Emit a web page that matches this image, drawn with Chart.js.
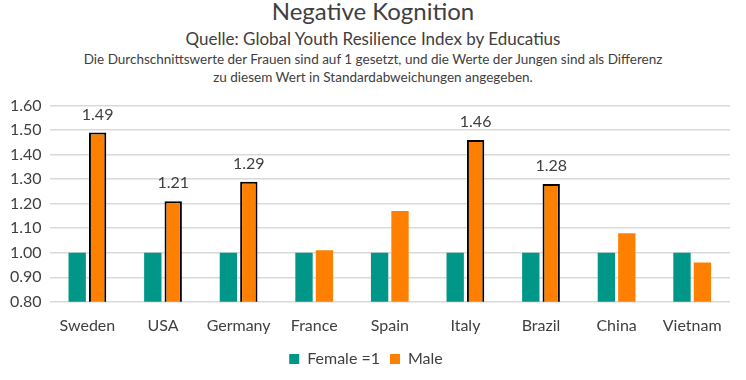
<!DOCTYPE html>
<html>
<head>
<meta charset="utf-8">
<script src="https://cdn.jsdelivr.net/npm/chart.js@4.4.0/dist/chart.umd.min.js"></script>
<style>
    html, body { margin: 0; padding: 0; background: #fff; }
    #wrap { position: relative; width: 746px; height: 380px; font-family: Lato, 'Open Sans', sans-serif; color: #404040; }
    .title { position: absolute; left: 0; width: 746px; text-align: center; white-space: nowrap; }
    #t1 { top: -4px; font-size: 24px; }
    #t2 { top: 28px; font-size: 17px; }
    #t3 { top: 50px; font-size: 13.5px; line-height: 18px; }
    #box { position: absolute; left: 0; top: 88px; width: 746px; height: 292px; }
</style>
</head>
<body>
<div id="wrap">
    <div class="title" id="t1">Negative Kognition</div>
    <div class="title" id="t2">Quelle: Global Youth Resilience Index by Educatius</div>
    <div class="title" id="t3">Die Durchschnittswerte der Frauen sind auf 1 gesetzt, und die Werte der Jungen sind als Differenz<br>zu diesem Wert in Standardabweichungen angegeben.</div>
    <div id="box"><canvas id="chart"></canvas></div>
</div>
<script>
// ========== DATA ==========
const countries = ['Sweden', 'USA', 'Germany', 'France', 'Spain', 'Italy', 'Brazil', 'China', 'Vietnam'];
const femaleValues = [1, 1, 1, 1, 1, 1, 1, 1, 1];
const maleValues = [1.49, 1.21, 1.29, 1.01, 1.17, 1.46, 1.28, 1.08, 0.96];
// male bars that are outlined and labelled
const highlighted = [true, true, true, false, false, true, true, false, false];

const TEAL = '#009688';
const ORANGE = '#ff8000';
const TEXT = '#404040';
const FONT = 'Lato, sans-serif';

// draws the value above highlighted male bars
const valueLabels = {
    id: 'valueLabels',
    afterDatasetsDraw(chart) {
        const ctx = chart.ctx;
        const meta = chart.getDatasetMeta(1);
        ctx.save();
        ctx.font = '16px ' + FONT;
        ctx.fillStyle = TEXT;
        ctx.textAlign = 'center';
        ctx.textBaseline = 'bottom';
        meta.data.forEach((bar, i) => {
            if (!highlighted[i]) return;
            ctx.fillText(maleValues[i].toFixed(2), bar.x, bar.y - 10);
        });
        ctx.restore();
    }
};

const ctx = document.getElementById('chart').getContext('2d');

new Chart(ctx, {
    type: 'bar',
    data: {
        labels: countries,
        datasets: [{
            label: 'Female =1',
            data: femaleValues,
            backgroundColor: TEAL,
            borderWidth: 0,
            categoryPercentage: 0.54,
            barPercentage: 0.85
        }, {
            label: 'Male',
            data: maleValues,
            backgroundColor: ORANGE,
            borderColor: highlighted.map(h => h ? '#000' : ORANGE),
            borderWidth: highlighted.map(h => h ? 2 : 0),
            borderSkipped: false,
            categoryPercentage: 0.54,
            barPercentage: 0.85
        }]
    },
    options: {
        responsive: true,
        maintainAspectRatio: false,
        animation: false,
        layout: { padding: { top: 9, right: 16, left: 2, bottom: 3 } },
        plugins: {
            legend: {
                position: 'bottom',
                labels: {
                    color: TEXT,
                    font: { size: 16, family: FONT },
                    boxWidth: 10,
                    boxHeight: 10,
                    padding: 10,
                    generateLabels: chart => chart.data.datasets.map((ds, i) => ({
                        text: ds.label,
                        fillStyle: ds.backgroundColor,
                        strokeStyle: ds.backgroundColor,
                        lineWidth: 0,
                        fontColor: TEXT,
                        datasetIndex: i
                    }))
                }
            },
            tooltip: { enabled: false }
        },
        scales: {
            y: {
                min: 0.8,
                max: 1.6,
                ticks: {
                    stepSize: 0.1,
                    color: TEXT,
                    font: { size: 16, family: FONT },
                    padding: 8,
                    callback: v => v.toFixed(2)
                },
                grid: { color: '#d9d9d9', lineWidth: 1.5, drawTicks: false },
                border: { display: false }
            },
            x: {
                ticks: {
                    color: TEXT,
                    font: { size: 16, family: FONT },
                    padding: 6
                },
                grid: { display: false },
                border: { display: false }
            }
        }
    },
    plugins: [valueLabels]
});
</script>
</body>
</html>
